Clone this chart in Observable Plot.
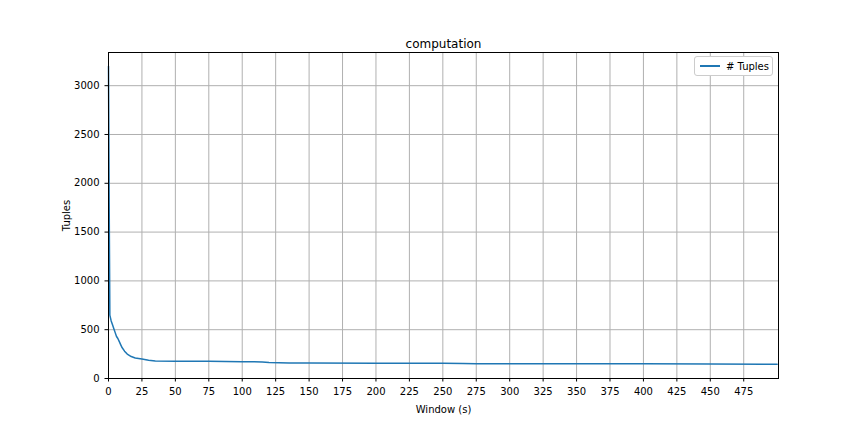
<!DOCTYPE html>
<html>
<head>
<meta charset="utf-8">
<script src="https://cdn.jsdelivr.net/npm/d3@7"></script>
<script src="https://cdn.jsdelivr.net/npm/@observablehq/plot@0.6"></script>
<style>
  body { margin: 0; background: #fff; }
  #wrap { position: relative; width: 864px; height: 432px; font-family: "DejaVu Sans", sans-serif; }
  #legend { position: absolute; left: 694px; top: 56px; width: 77px; height: 18px; border: 1px solid #ccc;
    border-radius: 3px; background: #fff; font-size: 10px; display: flex; align-items: center; }
  #legend span.sw { display: inline-block; width: 20px; height: 2px; background: #1f77b4; margin: 0 6px 0 5px; }
</style>
</head>
<body>
<div id="wrap"><div id="legend"><span class="sw"></span># Tuples</div></div>
<script>
// valores
const windowSec = [0, 0.5, 1, 2, 3, 4, 5, 6, 7, 8, 9, 10, 12, 14, 17, 20, 25, 30, 35, 50, 75, 100, 115, 120, 135, 150, 200, 250, 265, 275, 300, 400, 450, 500];
const tuples = [3200, 1800, 650, 590, 550, 510, 470, 430, 410, 380, 350, 320, 280, 250, 225, 210, 200, 188, 180, 178, 176, 172, 170, 165, 160, 159, 157, 155, 154, 152, 151, 150, 148, 146];
const xTicks = d3.range(0, 476, 25);
const yTicks = d3.range(0, 3001, 500);

const data = windowSec.map((w, i) => ({w, t: tuples[i]}));

const chart = Plot.plot({
  width: 864,
  height: 432,
  marginLeft: 108,
  marginRight: 86,
  marginTop: 52,
  marginBottom: 54,
  style: {fontFamily: "DejaVu Sans", fontSize: "10px", color: "#000", background: "#fff"},
  x: {domain: [0, 501]},
  y: {domain: [0, 3340]},
  marks: [
    Plot.gridX(xTicks, {stroke: "#b0b0b0", strokeOpacity: 1}),
    Plot.gridY(yTicks, {stroke: "#b0b0b0", strokeOpacity: 1}),
    Plot.line(data, {x: "w", y: "t", stroke: "#1f77b4", strokeWidth: 1.5}),
    Plot.frame({stroke: "#000"}),
    Plot.axisX(xTicks, {tickFormat: d3.format("d"), tickSize: 3.5, label: "Window (s)", labelAnchor: "center", labelArrow: "none", labelOffset: 34}),
    Plot.axisY(yTicks, {tickFormat: d3.format("d"), tickSize: 3.5, label: "Tuples", labelAnchor: "center", labelArrow: "none", labelOffset: 46}),
    Plot.text(["computation"], {frameAnchor: "top", dy: -5, fontSize: 12, lineAnchor: "bottom"})
  ]
});
document.getElementById("wrap").prepend(chart);
</script>
</body>
</html>
